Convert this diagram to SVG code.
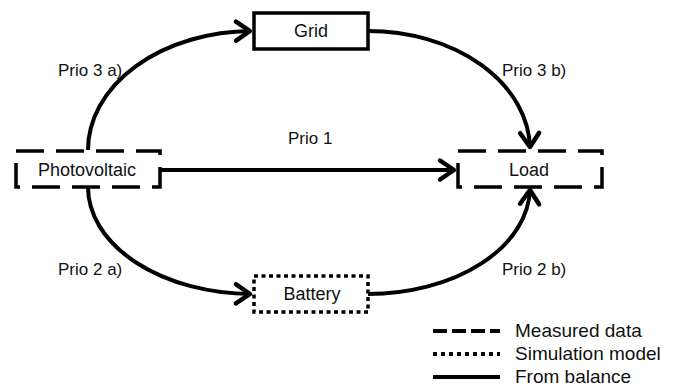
<svg xmlns="http://www.w3.org/2000/svg" width="675" height="386" viewBox="0 0 675 386">
<style>
text{font-family:"Liberation Sans",Arial,sans-serif;fill:#111}
.node{font-size:18px;text-anchor:middle}
.lbl{font-size:17px}
.leg{font-size:19px}
.box{fill:#fff;stroke:#000;stroke-width:3.5}
.dash{stroke-dasharray:28 12}
.dot{stroke-dasharray:4 3.5}
.edge{fill:none;stroke:#000;stroke-width:4;marker-end:url(#arr)}
</style>
<defs>
<marker id="arr" markerUnits="userSpaceOnUse" markerWidth="30" markerHeight="30" viewBox="-20 -15 30 30" refX="0" refY="0" orient="auto">
<path d="M-15,-9.5 L-1,0 L-15,9.5" fill="none" stroke="#000" stroke-width="4.5" stroke-linecap="round" stroke-linejoin="round"/>
</marker>
</defs>
<rect width="675" height="386" fill="#fff"/>
<g id="connectors">
<path class="edge" d="M88,150 A165,119 0 0 1 251,31"/>
<path class="edge" d="M368,31 A162,119 0 0 1 530,148"/>
<path class="edge" d="M160,170 L455,170"/>
<path class="edge" d="M88,187 A165,107 0 0 0 251,294"/>
<path class="edge" d="M368,294 A162,107 0 0 0 530,189"/>
</g>
<g id="grid">
<rect class="box" x="254" y="13" width="114" height="36"/>
<text class="node" x="311" y="37">Grid</text>
</g>
<g id="photovoltaic">
<rect class="box dash" x="16" y="151" width="144" height="36"/>
<text class="node" x="87" y="176">Photovoltaic</text>
</g>
<g id="load">
<rect class="box dash" x="458" y="151" width="144" height="36"/>
<text class="node" x="529" y="176">Load</text>
</g>
<g id="battery">
<rect class="box dot" x="254" y="276" width="114" height="36"/>
<text class="node" x="312" y="300">Battery</text>
</g>
<g id="labels">
<text class="lbl" x="58" y="76">Prio 3 a)</text>
<text class="lbl" x="502" y="76">Prio 3 b)</text>
<text class="lbl" x="288" y="144">Prio 1</text>
<text class="lbl" x="58" y="275">Prio 2 a)</text>
<text class="lbl" x="502" y="275">Prio 2 b)</text>
</g>
<g id="legend">
<line x1="433" y1="331" x2="500" y2="331" stroke="#000" stroke-width="4" stroke-dasharray="14 5"/>
<text class="leg" x="515" y="337">Measured data</text>
<line x1="433" y1="354" x2="500" y2="354" stroke="#000" stroke-width="4" stroke-dasharray="4 4"/>
<text class="leg" x="515" y="360">Simulation model</text>
<line x1="433" y1="377" x2="500" y2="377" stroke="#000" stroke-width="4"/>
<text class="leg" x="515" y="383">From balance</text>
</g>
</svg>
